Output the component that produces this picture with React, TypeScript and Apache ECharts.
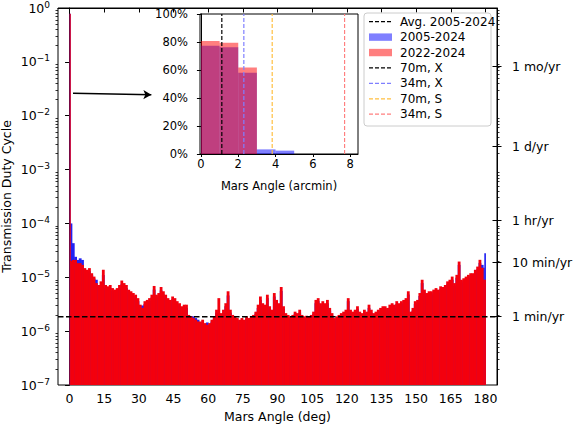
import React, { useEffect, useRef } from 'react';
import * as echarts from 'echarts';

// ---------- data ----------
// Histogram bin left edges (deg) of the main plot; last bin ends at 180
const binStarts: number[] = [0, 0.3, ...Array.from({ length: 179 }, (_, i) => i + 1), 179.5];
const binEnd = 180;

// 2022-2024 duty cycle per bin
const red2022: number[] = [
  0.78, 2.0e-5,
  2.1e-5, 2.1e-5, 1.83e-5, 1.83e-5, 1.7e-5, 1.48e-5, 1.38e-5, 1.48e-5, 1.19e-5, 1.03e-5,
  7.8e-6, 7.2e-6, 8.4e-6, 1.38e-5, 7.2e-6, 6.8e-6, 7.2e-6, 6.3e-6, 5.9e-6, 6.3e-6,
  7.2e-6, 8.7e-6, 7.8e-6, 7.2e-6, 5.9e-6, 5.5e-6, 5.1e-6, 4.75e-6, 4.1e-6, 3.1e-6,
  2.7e-6, 3.6e-6, 3.8e-6, 4.1e-6, 4.75e-6, 6.9e-6, 4.75e-6, 5.1e-6, 6.6e-6, 5.5e-6,
  4.75e-6, 4.1e-6, 3.8e-6, 4.4e-6, 4.1e-6, 3.6e-6, 3.3e-6, 2.9e-6, 3.1e-6, 3.1e-6,
  2.0e-6, 1.88e-6, 1.75e-6, 1.63e-6, 1.51e-6, 1.51e-6, 1.63e-6, 1.41e-6, 1.31e-6, 1.41e-6,
  1.63e-6, 1.88e-6, 2.5e-6, 4.1e-6, 2.16e-6, 2.5e-6, 3.3e-6, 5.5e-6, 2.5e-6, 2.0e-6,
  1.88e-6, 1.75e-6, 1.63e-6, 1.75e-6, 1.63e-6, 1.88e-6, 1.75e-6, 1.88e-6, 2.0e-6, 2.3e-6,
  3.1e-6, 4.4e-6, 3.3e-6, 3.1e-6, 4.75e-6, 2.9e-6, 2.5e-6, 5.1e-6, 3.8e-6, 3.3e-6,
  6.6e-6, 2.9e-6, 2.16e-6, 2.0e-6, 1.88e-6, 2.0e-6, 2.3e-6, 2.16e-6, 2.5e-6, 2.0e-6,
  1.88e-6, 1.93e-6, 1.88e-6, 2.0e-6, 2.3e-6, 3.8e-6, 4.1e-6, 3.3e-6, 3.6e-6, 3.3e-6,
  3.8e-6, 2.7e-6, 2.16e-6, 1.75e-6, 1.88e-6, 2.0e-6, 2.16e-6, 2.3e-6, 2.5e-6, 4.1e-6,
  2.5e-6, 2.3e-6, 2.5e-6, 2.9e-6, 2.3e-6, 2.16e-6, 2.5e-6, 2.3e-6, 3.1e-6, 2.5e-6,
  2.16e-6, 2.3e-6, 2.5e-6, 2.7e-6, 2.9e-6, 2.9e-6, 2.7e-6, 3.1e-6, 3.3e-6, 3.1e-6,
  3.6e-6, 3.3e-6, 3.6e-6, 3.8e-6, 4.1e-6, 5.5e-6, 2.3e-6, 2.7e-6, 3.6e-6, 3.8e-6,
  5.1e-6, 9.0e-6, 5.9e-6, 5.1e-6, 5.5e-6, 5.5e-6, 5.9e-6, 6.3e-6, 5.9e-6, 6.8e-6,
  6.6e-6, 7.2e-6, 8.4e-6, 9.0e-6, 1.03e-5, 7.8e-6, 1.11e-5, 1.96e-5, 9.0e-6, 9.6e-6,
  1.03e-5, 1.11e-5, 1.19e-5, 1.19e-5, 1.38e-5, 1.58e-5, 2.11e-5, 1.5e-5, 9.0e-6,
  9.0e-6,
];

// 2005-2024 duty cycle per bin
const blue2005: number[] = [
  0.78, 1.0e-4,
  4.3e-5, 2.4e-5, 2.1e-5, 2.25e-5, 2.1e-5, 1.3e-5, 1.25e-5, 1.3e-5, 1.1e-5, 9.5e-6,
  9.0e-6, 6.8e-6, 7.2e-6, 1.1e-5, 6.4e-6, 6.0e-6, 6.3e-6, 5.6e-6, 5.2e-6, 5.5e-6,
  6.2e-6, 7.4e-6, 6.8e-6, 6.3e-6, 5.2e-6, 4.8e-6, 4.5e-6, 4.2e-6, 3.6e-6, 2.9e-6,
  3.0e-6, 3.2e-6, 3.4e-6, 3.6e-6, 4.2e-6, 5.9e-6, 4.2e-6, 4.5e-6, 5.7e-6, 4.8e-6,
  4.2e-6, 3.6e-6, 3.4e-6, 3.9e-6, 3.6e-6, 3.2e-6, 2.9e-6, 2.6e-6, 2.8e-6, 2.7e-6,
  1.9e-6, 1.9e-6, 1.88e-6, 1.75e-6, 1.63e-6, 1.45e-6, 1.5e-6, 1.35e-6, 1.45e-6, 1.3e-6,
  1.5e-6, 1.7e-6, 2.2e-6, 2.16e-6, 1.95e-6, 2.2e-6, 2.9e-6, 4.6e-6, 2.2e-6, 1.8e-6,
  1.7e-6, 1.6e-6, 1.5e-6, 1.6e-6, 1.5e-6, 1.7e-6, 1.6e-6, 1.7e-6, 1.8e-6, 2.1e-6,
  2.7e-6, 3.8e-6, 2.9e-6, 2.7e-6, 4.1e-6, 2.6e-6, 2.2e-6, 4.4e-6, 3.3e-6, 2.9e-6,
  5.6e-6, 2.6e-6, 1.95e-6, 1.8e-6, 1.7e-6, 1.8e-6, 2.1e-6, 1.95e-6, 2.2e-6, 1.8e-6,
  1.7e-6, 1.75e-6, 1.7e-6, 1.8e-6, 2.1e-6, 3.3e-6, 3.6e-6, 2.9e-6, 3.2e-6, 2.9e-6,
  3.3e-6, 2.4e-6, 1.95e-6, 1.6e-6, 1.7e-6, 1.8e-6, 1.95e-6, 2.1e-6, 2.2e-6, 3.6e-6,
  2.2e-6, 2.1e-6, 2.2e-6, 2.6e-6, 2.1e-6, 1.95e-6, 2.2e-6, 2.1e-6, 2.7e-6, 2.2e-6,
  1.95e-6, 2.1e-6, 2.2e-6, 2.4e-6, 2.6e-6, 2.6e-6, 2.4e-6, 2.7e-6, 2.9e-6, 2.7e-6,
  3.2e-6, 2.9e-6, 3.2e-6, 3.4e-6, 3.6e-6, 4.8e-6, 2.1e-6, 2.4e-6, 3.2e-6, 3.4e-6,
  4.5e-6, 7.8e-6, 5.2e-6, 4.5e-6, 4.8e-6, 4.8e-6, 5.2e-6, 5.6e-6, 5.2e-6, 6.0e-6,
  5.8e-6, 6.4e-6, 7.4e-6, 8.0e-6, 9.0e-6, 6.9e-6, 9.8e-6, 1.7e-5, 8.0e-6, 8.5e-6,
  9.0e-6, 9.8e-6, 1.05e-5, 1.05e-5, 1.2e-5, 1.4e-5, 1.85e-5, 1.7e-5, 1.5e-5,
  2.8e-5,
];

const avgDuty2005 = 1.85e-6;

const mainXTicks: number[] = [0, 15, 30, 45, 60, 75, 90, 105, 120, 135, 150, 165, 180];
const rightTickLabels: string[] = ['1 min/yr', '10 min/yr', '1 hr/yr', '1 d/yr', '1 mo/yr'];
const rightTickDuty: number[] = [1.901e-6, 1.901e-5, 1.141e-4, 2.738e-3, 8.333e-2];

// Arrow annotation (deg, duty)
const arrowFrom: number[] = [1.5, 0.026];
const arrowTo: number[] = [35.4, 0.0245];

// Inset (arcmin bins)
const insetBinStarts: number[] = [0, 1, 2, 3, 4];
const insetBinWidth = 1;
const insetBlue: number[] = [0.774, 0.762, 0.581, 0.033, 0.024];
const insetRed: number[] = [0.807, 0.795, 0.617, 0, 0];
const insetXTicks: number[] = [0, 2, 4, 6, 8];
const beamNames: string[] = ['70m, X', '34m, X', '70m, S', '34m, S'];
const beamAngles: number[] = [1.12, 2.3, 3.82, 7.7];

// ---------- styling ----------
const FONT = '"DejaVu Sans", Verdana, sans-serif';
const beamColors = ['#000000', '#7f7fff', '#ffbf40', '#ff7f7f'];
const RED = '#f3000e';
const BLUE = '#2222f2';
const Y_MIN = 1e-7;

const minorLogs: number[] = [];
for (let k = -7; k < 0; k++) {
  for (let m = 2; m <= 9; m++) minorLogs.push(Math.log10(m * Math.pow(10, k)));
}
const rightLogs = rightTickDuty.map((v) => Math.log10(v));

function histData(vals: number[]) {
  return binStarts.map((x, i) => [x, i + 1 < binStarts.length ? binStarts[i + 1] : binEnd, vals[i]]);
}

function histRender(color: string, base: number, overlap: number) {
  return (_params: any, api: any) => {
    const p0 = api.coord([api.value(0), api.value(2)]);
    const p1 = api.coord([api.value(1), base]);
    return {
      type: 'rect',
      shape: { x: p0[0], y: p0[1], width: Math.max(p1[0] - p0[0] + overlap, 0.8), height: p1[1] - p0[1] },
      style: { fill: color },
    };
  };
}

const sup = (e: number) => (e < 0 ? '\u2212' + -e : String(e));

const legendRows = [
  { text: 'Avg. 2005-2024', kind: 'line', color: '#000000' },
  { text: '2005-2024', kind: 'patch', color: 'rgba(0,0,255,0.5)' },
  { text: '2022-2024', kind: 'patch', color: 'rgba(255,0,0,0.5)' },
  ...beamNames.map((n, i) => ({ text: n, kind: 'line', color: beamColors[i] })),
];

function buildLegend() {
  const els: any[] = [
    {
      type: 'rect',
      shape: { x: 364, y: 13, width: 127, height: 113, r: 3 },
      style: { fill: 'rgba(255,255,255,0.85)', stroke: '#cccccc', lineWidth: 1 },
      z: 100,
    },
  ];
  legendRows.forEach((r, i) => {
    const y = 21.7 + i * 15.42;
    if (r.kind === 'line') {
      els.push({
        type: 'line',
        shape: { x1: 369, y1: y, x2: 392, y2: y },
        style: { stroke: r.color, lineWidth: 1.3, lineDash: [4, 2] },
        z: 101,
      });
    } else {
      els.push({
        type: 'rect',
        shape: { x: 369, y: y - 3.7, width: 23, height: 7.4 },
        style: { fill: r.color },
        z: 101,
      });
    }
    els.push({
      type: 'text',
      x: 400,
      y,
      style: { text: r.text, fill: '#000', fontSize: 12, fontFamily: FONT, verticalAlign: 'middle', align: 'left' },
      z: 101,
    });
  });
  return els;
}

const axisLineBlack = { show: true, lineStyle: { color: '#000', width: 1 } };

const option: any = {
  animation: false,
  backgroundColor: '#fff',
  textStyle: { fontFamily: FONT, color: '#000' },
  grid: [
    {
      left: 58, top: 8, width: 439, height: 377, show: true, borderColor: '#000', borderWidth: 1,
      backgroundColor: 'transparent', containLabel: false, outerBoundsMode: 'none',
    },
    {
      left: 200, top: 14, width: 158, height: 140, show: true, borderColor: '#000', borderWidth: 1,
      backgroundColor: '#fff', containLabel: false, outerBoundsMode: 'none',
    },
  ],
  xAxis: [
    {
      type: 'value', gridIndex: 0, min: -5, max: 185,
      name: 'Mars Angle (deg)', nameLocation: 'middle', nameGap: 25,
      nameTextStyle: { fontSize: 12.5, fontFamily: FONT, color: '#000' },
      axisLine: axisLineBlack,
      axisTick: { show: true, length: 4.5, customValues: mainXTicks, lineStyle: { color: '#000' } },
      axisLabel: { customValues: mainXTicks, fontSize: 12.5, color: '#000', margin: 7, fontFamily: FONT },
      splitLine: { show: false },
    },
    {
      type: 'value', gridIndex: 1, min: -0.05, max: 8.42,
      name: 'Mars Angle (arcmin)', nameLocation: 'middle', nameGap: 26,
      nameTextStyle: { fontSize: 11.5, fontFamily: FONT, color: '#000' },
      axisLine: axisLineBlack,
      axisTick: { show: true, length: 3, customValues: insetXTicks, lineStyle: { color: '#000' } },
      axisLabel: { customValues: insetXTicks, fontSize: 11.5, color: '#000', margin: 4, fontFamily: FONT },
      splitLine: { show: false },
    },
  ],
  yAxis: [
    {
      type: 'log', logBase: 10, gridIndex: 0, min: Y_MIN, max: 1, position: 'left',
      name: 'Transmission Duty Cycle', nameLocation: 'middle', nameGap: 45, nameMoveOverlap: false,
      nameTextStyle: { fontSize: 12.5, fontFamily: FONT, color: '#000' },
      axisLine: axisLineBlack,
      axisTick: { show: true, length: 4.5, lineStyle: { color: '#000' } },
      axisLabel: {
        margin: 8,
        formatter: (v: number) => `{b|10}{s|${sup(Math.round(Math.log10(v)))}}`,
        rich: {
          b: { fontSize: 12.5, fontFamily: FONT, color: '#000' },
          s: { fontSize: 9, fontFamily: FONT, color: '#000', padding: [0, 0, 7, 0] },
        },
      },
      splitLine: { show: false },
      minorTick: { show: false },
    },
    {
      type: 'value', gridIndex: 0, min: -7, max: 0, position: 'left',
      axisLine: { show: false },
      axisTick: { show: true, length: 2.5, customValues: minorLogs, lineStyle: { color: '#000', width: 0.8 } },
      axisLabel: { show: false },
      splitLine: { show: false },
    },
    {
      type: 'value', gridIndex: 0, min: -7, max: 0, position: 'right',
      axisLine: axisLineBlack,
      axisTick: { show: true, length: 4.5, customValues: rightLogs, lineStyle: { color: '#000' } },
      axisLabel: {
        customValues: rightLogs, fontSize: 12.5, color: '#000', margin: 15, fontFamily: FONT,
        formatter: (v: number) => {
          const i = rightLogs.findIndex((t) => Math.abs(t - v) < 1e-6);
          return i >= 0 ? rightTickLabels[i] : '';
        },
      },
      splitLine: { show: false },
    },
    {
      type: 'value', gridIndex: 0, min: -7, max: 0, position: 'right',
      axisLine: { show: false },
      axisTick: { show: true, inside: true, length: 4.5, customValues: rightLogs, lineStyle: { color: '#000' } },
      axisLabel: { show: false },
      splitLine: { show: false },
    },
    {
      type: 'value', gridIndex: 0, min: -7, max: 0, position: 'right',
      axisLine: { show: false },
      axisTick: { show: true, length: 2.5, customValues: minorLogs, lineStyle: { color: '#000', width: 0.8 } },
      axisLabel: { show: false },
      splitLine: { show: false },
    },
    {
      type: 'value', gridIndex: 1, min: 0, max: 1, interval: 0.2, position: 'left',
      axisLine: axisLineBlack,
      axisTick: { show: true, length: 4, lineStyle: { color: '#000' } },
      axisLabel: {
        fontSize: 11.5, color: '#000', margin: 12, fontFamily: FONT,
        formatter: (v: number) => `${Math.round(v * 100)}%`,
      },
      splitLine: { show: false },
    },
  ],
  series: [
    {
      name: '2005-2024', type: 'custom', xAxisIndex: 0, yAxisIndex: 0,
      renderItem: histRender(BLUE, Y_MIN, 0.5),
      encode: { x: [0, 1], y: 2 },
      data: histData(blue2005), z: 2,
    },
    {
      name: '2022-2024', type: 'custom', xAxisIndex: 0, yAxisIndex: 0,
      renderItem: histRender(RED, Y_MIN, 0.5),
      encode: { x: [0, 1], y: 2 },
      data: histData(red2022), z: 3,
    },
    {
      name: 'Avg. 2005-2024', type: 'line', xAxisIndex: 0, yAxisIndex: 0,
      data: [[-5, avgDuty2005], [185, avgDuty2005]],
      symbol: 'none', z: 5,
      lineStyle: { color: '#000', width: 1.5, type: [5.5, 2.5] },
      markLine: {
        silent: true, symbol: ['none', 'arrow'], symbolSize: [7, 8],
        label: { show: false },
        lineStyle: { color: '#000', width: 1.5, type: 'solid' },
        data: [[{ coord: arrowFrom }, { coord: arrowTo }]],
      },
    },
    {
      name: 'inset 2005-2024', type: 'custom', xAxisIndex: 1, yAxisIndex: 5,
      renderItem: (_p: any, api: any) => {
        const p0 = api.coord([api.value(0), api.value(2)]);
        const p1 = api.coord([api.value(1), 0]);
        return { type: 'rect', shape: { x: p0[0], y: p0[1], width: p1[0] - p0[0], height: p1[1] - p0[1] }, style: { fill: 'rgba(0,0,255,0.5)' } };
      },
      encode: { x: [0, 1], y: 2 },
      data: insetBinStarts.map((x, i) => [x, x + insetBinWidth, insetBlue[i]]), z: 10,
    },
    {
      name: 'inset 2022-2024', type: 'custom', xAxisIndex: 1, yAxisIndex: 5,
      renderItem: (_p: any, api: any) => {
        const p0 = api.coord([api.value(0), api.value(2)]);
        const p1 = api.coord([api.value(1), 0]);
        return { type: 'rect', shape: { x: p0[0], y: p0[1], width: p1[0] - p0[0], height: p1[1] - p0[1] }, style: { fill: 'rgba(255,0,0,0.5)' } };
      },
      encode: { x: [0, 1], y: 2 },
      data: insetBinStarts.map((x, i) => [x, x + insetBinWidth, insetRed[i]]).filter((d) => d[2] > 0), z: 11,
    },
    ...beamNames.map((n, i) => ({
      name: n, type: 'line', xAxisIndex: 1, yAxisIndex: 5,
      data: [[beamAngles[i], 0], [beamAngles[i], 1]],
      symbol: 'none', z: 12,
      lineStyle: { color: beamColors[i], width: 1.2, type: [4, 2] },
    })),
  ],
  graphic: buildLegend(),
};

export default function App() {
  const ref = useRef<HTMLDivElement>(null);
  useEffect(() => {
    if (!ref.current) return;
    const chart = echarts.init(ref.current, null, { renderer: 'svg' });
    chart.setOption(option);
    return () => chart.dispose();
  }, []);
  return (
    <div
      ref={ref}
      style={{ position: 'fixed', left: 0, top: 0, width: 578, height: 428, background: '#fff' }}
    />
  );
}
